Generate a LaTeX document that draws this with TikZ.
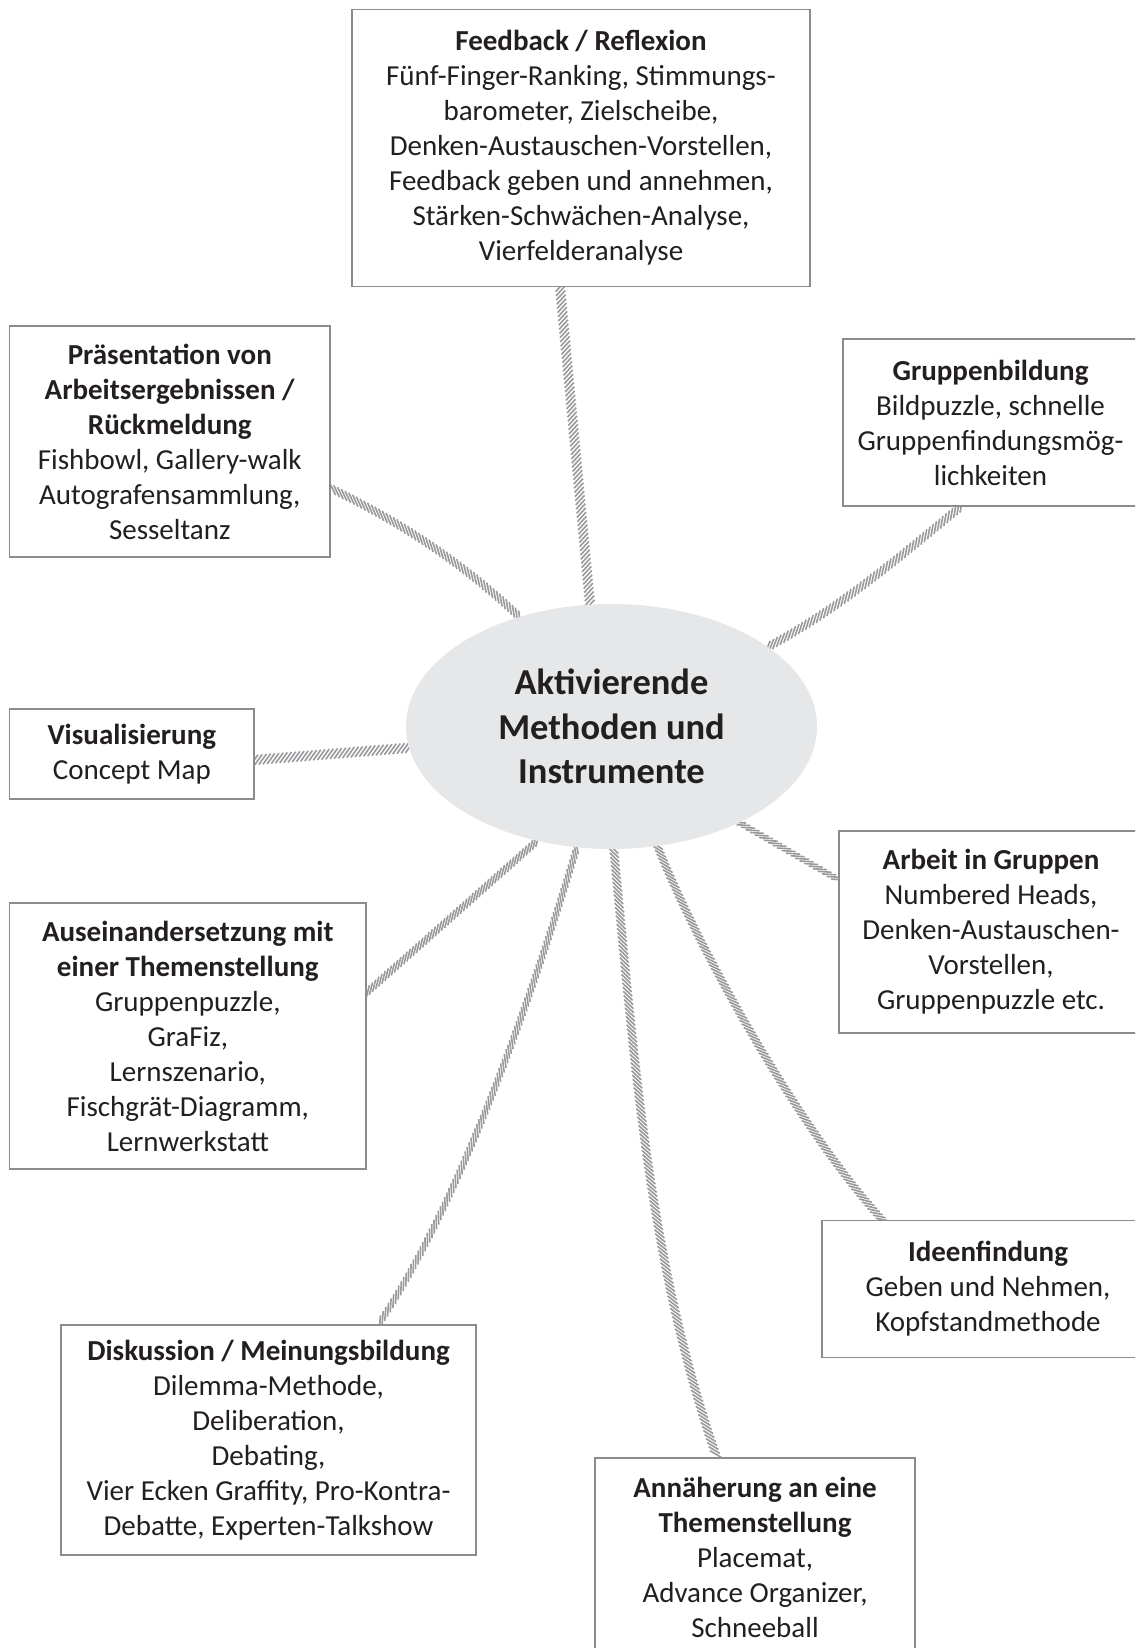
\documentclass[tikz,border=0pt]{standalone}
\usepackage{fontspec}
\setmainfont{Carlito}
\usetikzlibrary{shapes.geometric,decorations.markings}
\pgfdeclarelayer{bg}
\pgfsetlayers{bg,main}
\definecolor{ink}{HTML}{231F20}
\definecolor{frame}{HTML}{8C8C8C}
\definecolor{hubfill}{HTML}{E6E7E8}
\definecolor{ropegray}{HTML}{999A9D}

\tikzset{
  box/.style={draw=frame, line width=1.3pt, fill=white, inner sep=0pt,
    outer sep=0pt, align=center, text=ink,
    font=\fontsize{29}{35}\selectfont},
  hubnode/.style={ellipse, fill=hubfill, inner sep=0pt, outer sep=0pt,
    minimum width=411pt, minimum height=245pt, align=center, text=ink,
    font=\fontsize{36.5}{44.5}\selectfont\bfseries},
  ropestroke/.style={draw=ropegray, line width=1.6pt},
  % hatched band: strokes of half length #3 at angle #1 to the path, spaced #2
  rope/.style n args={3}{
    /utils/exec={\pgfmathsetmacro\ropeA{#3*cos(#1)}%
                 \pgfmathsetmacro\ropeH{#3*sin(#1)}},
    postaction={decorate},
    decoration={markings,
      mark=between positions 0 and 1 step #2 with {
        \draw[ropestroke] (-\ropeA pt,-\ropeH pt) -- (\ropeA pt,\ropeH pt);}}
  }
}

\begin{document}
\begin{tikzpicture}[x=1pt,y=-1pt]
\useasboundingbox (0,0) rectangle (1135,1648);
\clip (0,0) rectangle (1135,1648);

% central topic
\node[hubnode] (hub) at (611.5,726.5) {Aktivierende\\Methoden und\\Instrumente};

% method boxes
\node[box, minimum width=458pt, minimum height=277.5pt] (fb) at (581,148)
  {\textbf{Feedback / Reflexion}\\
   Fünf-Finger-Ranking, Stimmungs-\\
   barometer, Zielscheibe,\\
   Denken-Austauschen-Vorstellen,\\
   Feedback geben und annehmen,\\
   Stärken-Schwächen-Analyse,\\
   Vierfelderanalyse};

\node[box, minimum width=320.5pt, minimum height=231pt] (pr) at (169.8,441.5)
  {\textbf{Präsentation von}\\
   \textbf{Arbeitsergebnissen /}\\
   \textbf{Rückmeldung}\\
   Fishbowl, Gallery-walk\\
   Autografensammlung,\\
   Sesseltanz};

\node[box, minimum width=295pt, minimum height=167pt] (gb) at (990.5,422.5)
  {\textbf{Gruppenbildung}\\
   Bildpuzzle, schnelle\\
   Gruppenfindungsmög-\\
   lichkeiten};

\node[box, minimum width=244.5pt, minimum height=90pt] (vi) at (131.8,754)
  {\textbf{Visualisierung}\\
   Concept Map};

\node[box, minimum width=356.5pt, minimum height=266pt] (au) at (187.8,1036)
  {\textbf{Auseinandersetzung mit}\\
   \textbf{einer Themenstellung}\\
   Gruppenpuzzle,\\
   GraFiz,\\
   Lernszenario,\\
   Fischgrät-Diagramm,\\
   Lernwerkstatt};

\node[box, minimum width=304pt, minimum height=202pt] (ar) at (991,932)
  {\textbf{Arbeit in Gruppen}\\
   Numbered Heads,\\
   Denken-Austauschen-\\
   Vorstellen,\\
   Gruppenpuzzle etc.};

\node[box, minimum width=332pt, minimum height=137pt] (id) at (988,1289)
  {\textbf{Ideenfindung}\\
   Geben und Nehmen,\\
   Kopfstandmethode};

\node[box, minimum width=415pt, minimum height=230pt] (di) at (268.5,1440)
  {\textbf{Diskussion / Meinungsbildung}\\
   Dilemma-Methode,\\
   Deliberation,\\
   Debating,\\
   Vier Ecken Graffity, Pro-Kontra-\\
   Debatte, Experten-Talkshow};

\node[box, minimum width=320pt, minimum height=198pt] (an) at (755,1557)
  {\textbf{Annäherung an eine}\\
   \textbf{Themenstellung}\\
   Placemat,\\
   Advance Organizer,\\
   Schneeball};

% hatched connectors behind the nodes
\begin{pgfonlayer}{bg}
\path[rope={-48}{4.2pt}{6.5}] (hub.100.8) -- ([xshift=-21pt]fb.south);
\path[rope={-38}{4.2pt}{6.5}] (hub.130.9) .. controls +(-60,-56.4) and +(70,34) .. ([yshift=-46.5pt]pr.east);
\path[rope={40}{4.2pt}{6.5}] (hub.27.2) .. controls +(75,-40) and +(-55,45) .. ([xshift=-29pt]gb.south);
\path[rope={50}{4.2pt}{6.5}] (hub.186.6) -- ([yshift=-6pt]vi.east);
\path[rope={26}{5.2pt}{7}] (hub.-37.3) -- ([yshift=52pt]ar.west);
\path[rope={36}{4.2pt}{6.5}] (hub.-69.2) .. controls +(48,120) and +(-74.4,-80) .. ([xshift=-105pt]id.north);
\path[rope={40}{4.2pt}{6.5}] (hub.-89.3) .. controls +(20,200) and +(-70,-200) .. ([xshift=-38pt]an.north);
\path[rope={28}{5pt}{7}] (hub.-106.4) .. controls +(-45,150) and +(82,-122) .. ([xshift=109.5pt]di.north);
\path[rope={34}{4.2pt}{6.5}] (hub.-123.5) -- ([yshift=43pt]au.east);
\end{pgfonlayer}
\end{tikzpicture}
\end{document}
